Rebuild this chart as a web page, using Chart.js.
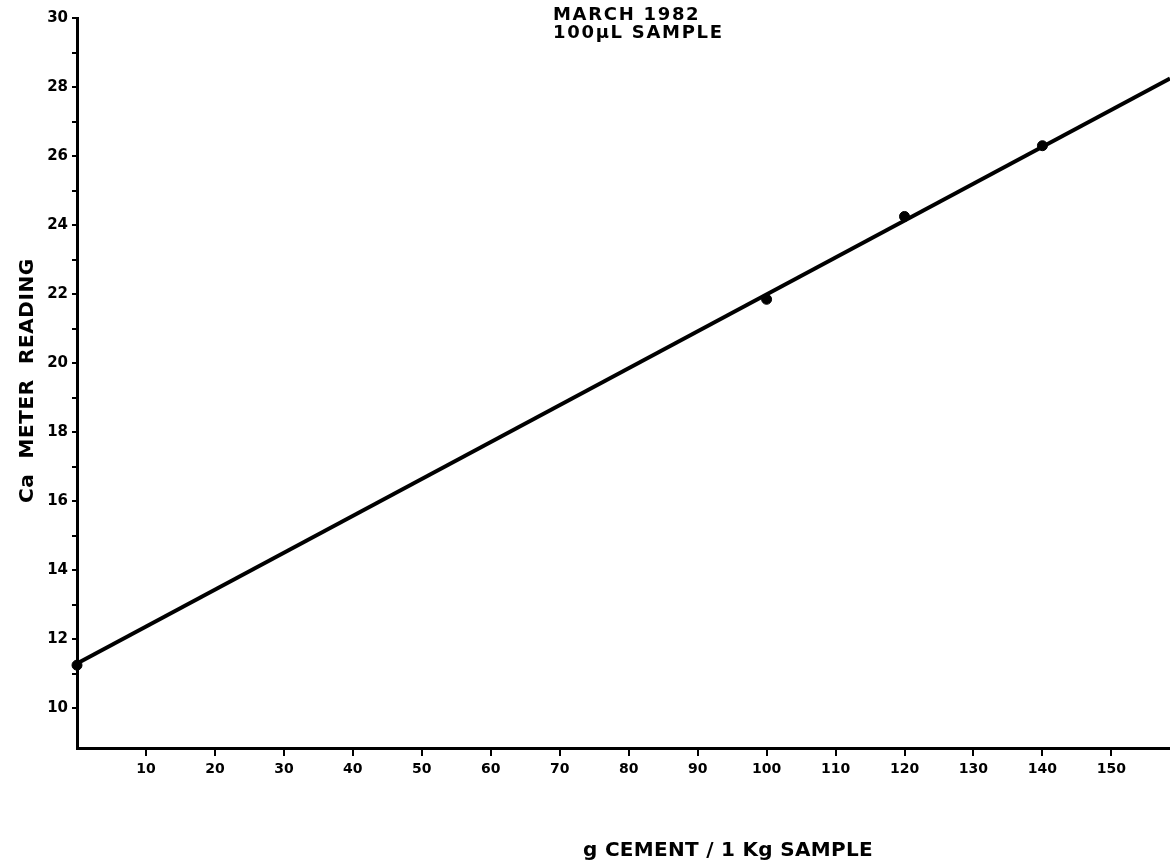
<!DOCTYPE html>
<html>
<head>
<meta charset="utf-8">
<script src="https://cdn.jsdelivr.net/npm/chart.js@4"></script>
<style>
  body { margin: 0; background: #fff; }
  #wrap { width: 1170px; height: 865px; position: relative; }
</style>
</head>
<body>
<div id="wrap"><canvas id="myChart"></canvas></div>
<script>
// measured points (g cement per kg sample vs Ca meter reading)
const cemento = [0, 100, 120, 140];
const lettura = [11.25, 21.85, 24.25, 26.3];

// fitted calibration line, end points
const lineaX = [0, 158.5];
const lineaY = [11.3, 28.25];

const tickX = [10, 20, 30, 40, 50, 60, 70, 80, 90, 100, 110, 120, 130, 140, 150];
const tickYMaggiori = [10, 12, 14, 16, 18, 20, 22, 24, 26, 28, 30];
const tickYMinori = [11, 13, 15, 17, 19, 21, 23, 25, 27, 29];

const titolo = ['MARCH 1982', '100\u00B5L SAMPLE'];
const titoloX = 'g CEMENT / 1 Kg SAMPLE';
const titoloY = 'Ca  METER  READING';

const fontBold = { family: "'DejaVu Sans', sans-serif", weight: 'bold' };

const testi = {
    id: 'testi',
    afterDraw(chart) {
        const c = chart.ctx;
        c.save();
        c.fillStyle = '#000';
        c.textAlign = 'left';
        c.textBaseline = 'alphabetic';

        c.font = "bold 18px 'DejaVu Sans', sans-serif";
        c.letterSpacing = '1.7px';
        c.fillText(titolo[0], 553, 20);
        c.fillText(titolo[1], 553, 38);

        c.font = "bold 20px 'DejaVu Sans', sans-serif";
        c.letterSpacing = '0.3px';
        c.fillText(titoloX, 583, 856);

        c.letterSpacing = '0.6px';
        c.translate(33, 503);
        c.rotate(-Math.PI / 2);
        c.fillText(titoloY, 0, 0);
        c.restore();
    }
};

const ctx = document.getElementById('myChart');

new Chart(ctx, {
    type: 'scatter',
    data: {
        datasets: [{
            label: 'fit',
            type: 'line',
            data: lineaX.map((x, i) => ({ x: x, y: lineaY[i] })),
            borderColor: '#000',
            borderWidth: 4,
            pointRadius: 0,
            fill: false
        }, {
            label: 'punti',
            data: cemento.map((x, i) => ({ x: x, y: lettura[i] })),
            backgroundColor: '#000',
            borderColor: '#000',
            pointRadius: 5,
            clip: false
        }]
    },
    options: {
        responsive: true,
        maintainAspectRatio: false,
        animation: false,
        layout: { autoPadding: false, padding: { top: 18, right: 0, left: 0, bottom: 0 } },
        plugins: {
            legend: { display: false },
            tooltip: { enabled: false }
        },
        scales: {
            x: {
                type: 'linear',
                min: 0,
                max: 158.5,
                afterBuildTicks: function(scale) {
                    scale.ticks = tickX.map(v => ({ value: v }));
                },
                afterFit: function(scale) {
                    scale.height = 117;
                    scale.paddingLeft = 0;
                    scale.paddingRight = 0;
                },
                border: { color: '#000', width: 3 },
                grid: { drawOnChartArea: false, color: '#000', tickLength: 8, lineWidth: 2 },
                ticks: {
                    color: '#000',
                    maxRotation: 0,
                    padding: 5,
                    font: Object.assign({ size: 14 }, fontBold)
                }
            },
            y: {
                min: 8.85,
                max: 30,
                afterBuildTicks: function(scale) {
                    scale.ticks = tickYMaggiori.concat(tickYMinori)
                        .sort((a, b) => a - b)
                        .map(v => ({ value: v }));
                },
                afterFit: function(scale) { scale.width = 77; },
                border: { color: '#000', width: 3 },
                grid: { drawOnChartArea: false, color: '#000', tickLength: 5, lineWidth: 2 },
                ticks: {
                    color: '#000',
                    padding: 4,
                    font: Object.assign({ size: 15 }, fontBold),
                    callback: function(v) {
                        return tickYMaggiori.includes(v) ? String(v) : '';
                    }
                }
            }
        }
    },
    plugins: [testi]
});
</script>
</body>
</html>
